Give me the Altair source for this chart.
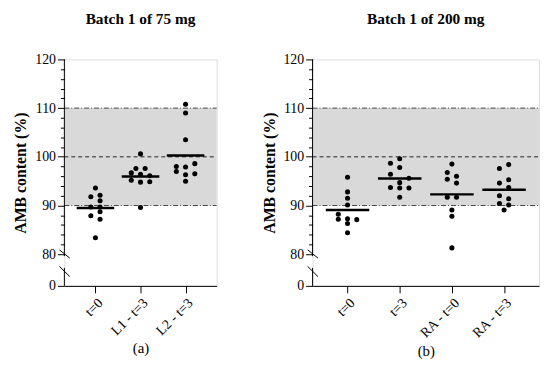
import altair as alt
import pandas as pd

FONT = "Liberation Serif"

# ---------------- data ----------------
CATS_A = ["t=0", "L1 - t=3", "L2 - t=3"]
A_T0 = [93.6, 91.8, 92.1, 91.0, 89.7, 89.7, 88.7, 87.9, 87.2, 83.4]
A_T0_COL = [0, -1, 1, 1, -1, 1, 1, -1, 1, 0]
A_L1 = [100.6, 97.6, 97.6, 96.7, 96.4, 96.1, 95.2, 94.8, 94.9, 89.6]
A_L1_COL = [0, -1, 1, -2, 0, 2, -2, 0, 2, 0]
A_L2 = [110.8, 109.0, 103.5, 98.0, 97.9, 98.6, 97.0, 96.3, 96.5, 95.0]
A_L2_COL = [0, 0, 0, -2, 0, 2, -2, 0, 2, 0]

CATS_B = ["t=0", "t=3", "RA - t=0", "RA - t=3"]
B_T0 = [95.8, 92.8, 91.5, 90.1, 88.2, 87.2, 87.3, 87.1, 86.3, 84.4]
B_T0_COL = [0, 0, 0, 0, -2, -2, 0, 2, 0, 0]
B_T3 = [99.6, 98.7, 97.8, 96.4, 95.6, 94.7, 93.7, 93.6, 93.6, 91.7]
B_T3_COL = [0, -2, 0, -2, 2, 0, -2, 0, 2, 0]
B_RA0 = [98.5, 96.8, 96.0, 95.4, 94.6, 91.7, 91.7, 89.1, 87.8, 81.3]
B_RA0_COL = [0, -1, 1, -1, 1, -1, 1, 0, 0, 0]
B_RA3 = [98.4, 97.6, 95.3, 94.6, 93.7, 92.0, 91.4, 90.4, 90.1, 89.1]
B_RA3_COL = [1, -1, 1, -1, 1, -1, 1, -1, 1, 0]

# specification limits and reference line
SPEC_LO, SPEC_HI, TARGET = 90, 110, 100
# y axis: broken between 0 and 80; position used for the "0" tick
Y_TOP = 120
ZERO_POS = 73.5
AXIS_SEGMENTS = [(120, 79.6), (77.2, ZERO_POS)]
SLASHES = [(80.9, 79.2), (77.5, 75.4)]

HEIGHT = 229


def panel(cats, vals, cols, title, sub, width, pad, dot_px, half_px):
    rows = []
    for i, (vs, cs) in enumerate(zip(vals, cols)):
        for v, c in zip(vs, cs):
            rows.append({"idx": i, "y": v, "col": c})
    df = pd.DataFrame(rows)
    n = len(cats)
    ppu = width / (n - 1 + 2 * pad)
    step = dot_px / ppu
    half = half_px / ppu

    label_expr = "[" + ",".join("'" + c + "'" for c in cats) + "][datum.value]"
    xscale = alt.Scale(domain=[-pad, n - 1 + pad], nice=False, zero=False)
    xaxis = alt.Axis(
        values=list(range(n)), labelExpr=label_expr, grid=False,
        labelAngle=-45, labelFont=FONT, labelFontSize=14, labelColor="black",
        tickSize=7, tickColor="black", domainColor="black", tickWidth=1,
        title=sub, titleFont=FONT, titleFontSize=15, titleFontWeight="normal",
        titleColor="black", titlePadding=3, labelPadding=3,
    )
    yscale = alt.Scale(domain=[ZERO_POS, Y_TOP], nice=False, zero=False)
    yaxis = alt.Axis(
        values=[ZERO_POS] + list(range(80, 121, 2)),
        labelExpr="datum.value < 75 ? '0' : (datum.value % 10 == 0 ? datum.label : '')",
        labelOverlap=False, domain=False, grid=False,
        tickColor="black", tickWidth=1,
        tickSize={"condition": {"test": "datum.value < 75 || datum.value % 10 == 0", "value": 7}, "value": 4},
        labelFont=FONT, labelFontSize=14, labelColor="black", labelPadding=2,
        title="AMB content (%)", titleFont=FONT, titleFontSize=16,
        titleFontWeight="bold", titleColor="black", titlePadding=6,
    )
    X = alt.X("x:Q", scale=xscale, axis=xaxis)
    Y = alt.Y("y:Q", scale=yscale, axis=yaxis)

    band = alt.Chart(pd.DataFrame({"y": [SPEC_LO], "y2": [SPEC_HI]})).mark_rect(
        color="#d9d9d9").encode(x=alt.value(0), x2=alt.value(width), y=Y, y2="y2:Q")
    spec_lines = alt.Chart(pd.DataFrame({"y": [SPEC_LO, SPEC_HI]})).mark_rule(
        color="#444444", strokeWidth=1, strokeDash=[5, 2, 1, 2]).encode(
        x=alt.value(0), x2=alt.value(width), y=Y)
    target_line = alt.Chart(pd.DataFrame({"y": [TARGET]})).mark_rule(
        color="#222222", strokeWidth=1, strokeDash=[4, 3]).encode(
        x=alt.value(0), x2=alt.value(width), y=Y)
    axis_line = alt.Chart(pd.DataFrame({"y": [a for a, b in AXIS_SEGMENTS],
                                        "y2": [b for a, b in AXIS_SEGMENTS]})).mark_rule(
        color="black", strokeWidth=1).encode(x=alt.value(0), y=Y, y2="y2:Q")
    slashes = alt.Chart(pd.DataFrame({"y": [a for a, b in SLASHES],
                                      "y2": [b for a, b in SLASHES]})).mark_rule(
        color="black", strokeWidth=1).encode(
        x=alt.value(-5), x2=alt.value(5.5), y=Y, y2="y2:Q")
    dots = alt.Chart(df).transform_calculate(
        x=f"datum.idx + datum.col * {step}").mark_circle(
        color="black", opacity=1, size=26).encode(x=X, y=Y)
    means = alt.Chart(df).transform_aggregate(
        y="mean(y)", groupby=["idx"]).transform_calculate(
        x=f"datum.idx - {half}", x2=f"datum.idx + {half}").mark_rule(
        color="black", strokeWidth=2.5).encode(x=X, x2="x2:Q", y=Y)

    return alt.layer(band, spec_lines, target_line, dots, means, axis_line, slashes).properties(
        width=width, height=HEIGHT,
        title=alt.TitleParams(title, font=FONT, fontSize=15.5, fontWeight="bold",
                              color="black", anchor="middle", frame="group", offset=25),
    )


pa = panel(CATS_A, [A_T0, A_L1, A_L2], [A_T0_COL, A_L1_COL, A_L2_COL],
           "Batch 1 of 75 mg", "(a)", 154, 0.69, 4.67, 19)
pb = panel(CATS_B, [B_T0, B_T3, B_RA0, B_RA3], [B_T0_COL, B_T3_COL, B_RA0_COL, B_RA3_COL],
           "Batch 1 of 200 mg", "(b)", 229, 0.67, 4.67, 22)

chart = alt.hconcat(pa, pb, spacing=43).properties(
    padding={"left": 4, "top": 2, "right": 2, "bottom": 2}
).configure_view(stroke=None).configure(background="white")

chart.save("out.html", embed_options={"renderer": "svg", "actions": False})
